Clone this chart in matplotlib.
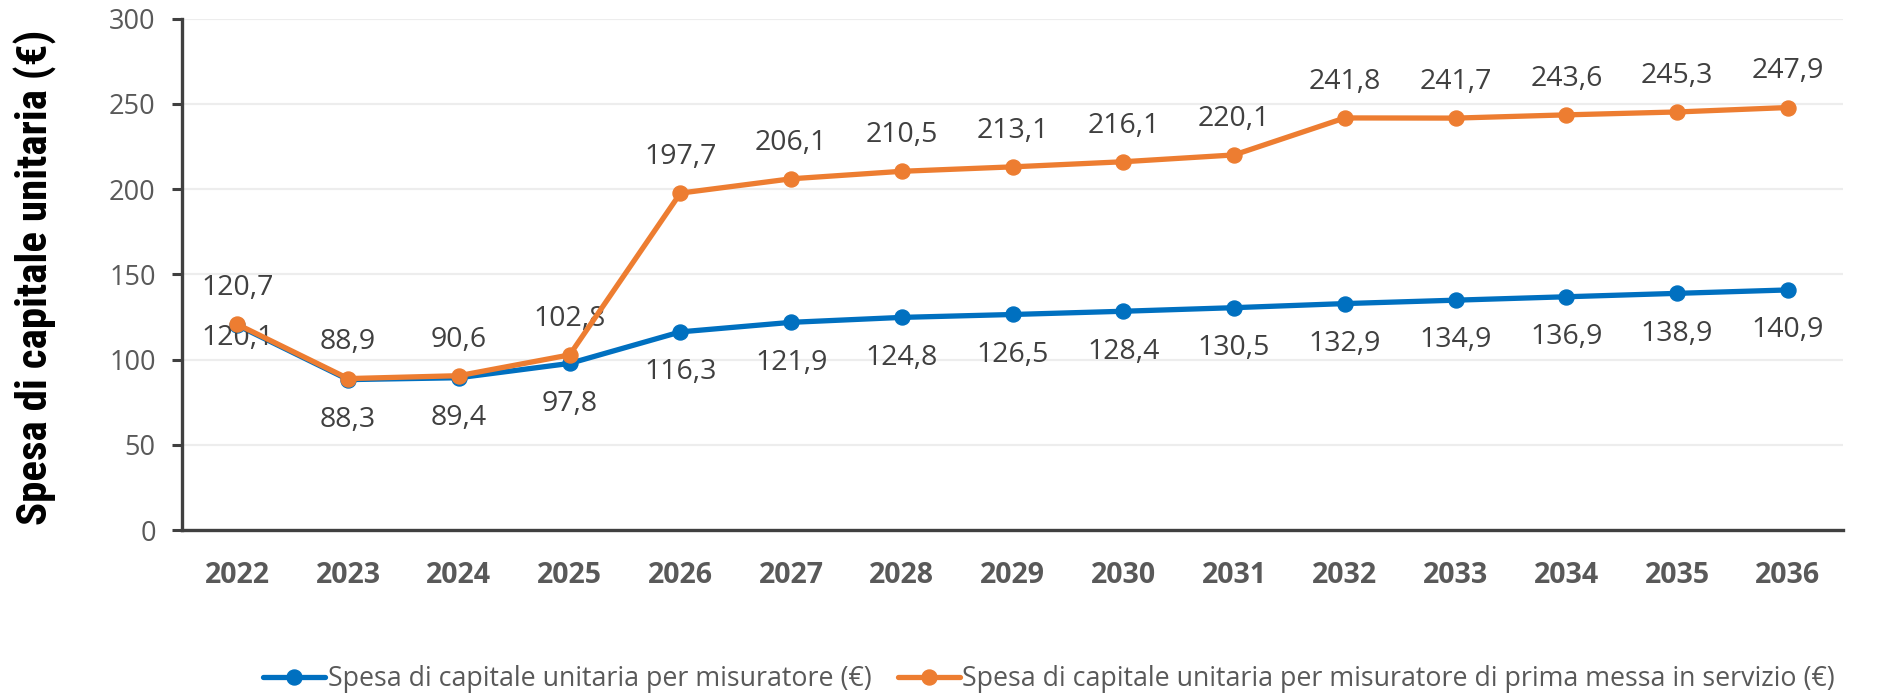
import matplotlib
matplotlib.use("Agg")
import matplotlib.pyplot as plt
from matplotlib import font_manager

years = ["2022", "2023", "2024", "2025", "2026", "2027", "2028", "2029",
         "2030", "2031", "2032", "2033", "2034", "2035", "2036"]
spesa_misuratore = [120.1, 88.3, 89.4, 97.8, 116.3, 121.9, 124.8, 126.5,
                    128.4, 130.5, 132.9, 134.9, 136.9, 138.9, 140.9]
spesa_prima_messa = [120.7, 88.9, 90.6, 102.8, 197.7, 206.1, 210.5, 213.1,
                     216.1, 220.1, 241.8, 241.7, 243.6, 245.3, 247.9]
y_ticks = [0, 50, 100, 150, 200, 250, 300]
label_blue = "Spesa di capitale unitaria per misuratore (€)"
label_orange = "Spesa di capitale unitaria per misuratore di prima messa in servizio (€)"
y_title = "Spesa di capitale unitaria (€)"

names = {f.name for f in font_manager.fontManager.ttflist}
def pick(cands):
    for c in cands:
        if c in names:
            return c
    return "DejaVu Sans"

base_font = pick(["Open Sans", "Noto Sans", "DejaVu Sans"])
narrow_font = pick(["Liberation Sans Narrow", "Roboto Condensed", "Open Sans Condensed",
                    "DejaVu Sans Condensed", "Open Sans"])

plt.rcParams['font.family'] = [base_font, 'DejaVu Sans']

BLUE = "#0070C0"
ORANGE = "#ED7D31"
AXIS = "#404040"
TXT = "#404040"
TICK = "#595959"

fig = plt.figure(figsize=(18.77, 6.93), dpi=100)
ax = fig.add_axes([0.097, 0.235, 0.885, 0.738])

x = list(range(len(years)))
ax.plot(x, spesa_misuratore, color=BLUE, lw=3.8, marker="o", ms=10.8,
        label=label_blue, zorder=3, solid_capstyle="round")
ax.plot(x, spesa_prima_messa, color=ORANGE, lw=3.8, marker="o", ms=10.8,
        label=label_orange, zorder=4, solid_capstyle="round")

def fmt(v):
    return f"{v:.1f}".replace(".", ",")

for i, v in enumerate(spesa_prima_messa):
    ax.annotate(fmt(v), (i, v), xytext=(0, 26), textcoords="offset points",
                ha="center", va="center", fontsize=20.5, color=TXT)
for i, v in enumerate(spesa_misuratore):
    off = -9 if i == 0 else -29
    ax.annotate(fmt(v), (i, v), xytext=(0, off), textcoords="offset points",
                ha="center", va="center", fontsize=20.5, color=TXT)

ax.set_xlim(-0.5, len(years) - 0.5)
ax.set_ylim(0, 300)
ax.set_yticks(y_ticks)
ax.set_xticks(x)
ax.set_xticklabels(years, fontsize=20.5, fontweight="bold", color=TICK)
ax.tick_params(axis="x", length=0, pad=22)
ax.tick_params(axis="y", length=7, width=2.2, color=AXIS, pad=12,
               labelsize=19.5, labelcolor=TICK)

ax.grid(axis="y", color="#EDEDED", lw=1.6, zorder=0)
ax.set_axisbelow(True)
for s in ["top", "right"]:
    ax.spines[s].set_visible(False)
for s in ["left", "bottom"]:
    ax.spines[s].set_color(AXIS)
    ax.spines[s].set_linewidth(2.4)

fig.text(0.019, 0.6, y_title, rotation=90, ha="center", va="center",
         fontsize=31, fontweight="bold", color="black", family=[narrow_font, 'DejaVu Sans'])

leg = fig.legend(loc="center", bbox_to_anchor=(0.559, 0.02), ncol=2, frameon=False,
                 fontsize=19.3, handlelength=2.3, columnspacing=1.0, handletextpad=0.1,
                 labelcolor=TICK)

fig.savefig("out.png", dpi=100)
